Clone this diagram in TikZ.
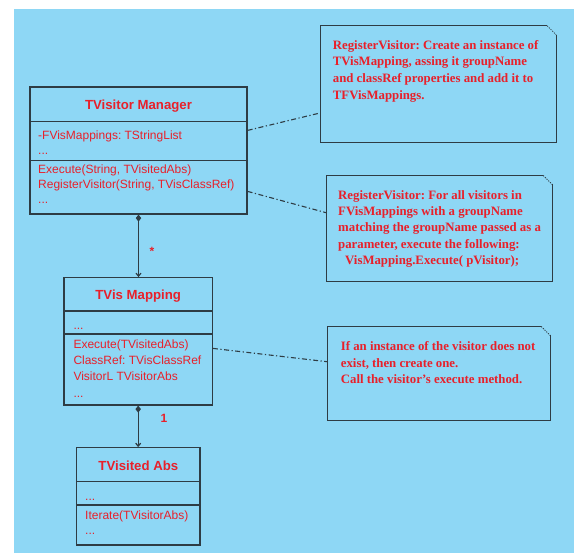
\documentclass[tikz,border=0pt]{standalone}
\usepackage{fontspec}
\setmainfont{Liberation Serif}
\setsansfont{Liberation Sans}
\usetikzlibrary{arrows.meta}
\definecolor{bgblue}{HTML}{8ED7F5}
\definecolor{umlred}{HTML}{E8202A}
\definecolor{edge}{HTML}{2E3C44}
\frenchspacing

\begin{document}
\begin{tikzpicture}[x=1pt,y=-1pt,
  classbox/.style={draw=edge, line width=1.2pt, rectangle, inner sep=0pt},
  ctitle/.style={font=\sffamily\bfseries\fontsize{13.2}{15}\selectfont, text=umlred, inner sep=0pt, anchor=base},
  cline/.style={font=\sffamily\fontsize{12}{14}\selectfont, text=umlred, inner sep=0pt, anchor=base west},
  notetext/.style={text=umlred, inner sep=0pt, anchor=base west, align=left},
  notebox/.style={rectangle, inner sep=0pt},
  notedge/.style={draw=edge, line width=1.2pt},
  notefold/.style={draw=edge, line width=0.8pt, dash pattern=on 1.2pt off 1.2pt},
  divider/.style={draw=edge, line width=1.2pt},
  assoc/.style={draw=edge, line width=1.2pt, {Diamond[length=7pt,width=5.5pt]}-{Straight Barb[length=3pt,width=5pt]}},
  anchorline/.style={draw=edge, line width=1.1pt, dash pattern=on 5pt off 2.5pt on 1.2pt off 2.5pt},
  mult/.style={font=\sffamily\bfseries\fontsize{12}{14}\selectfont, text=umlred, inner sep=0pt}
]
\useasboundingbox (0,0) rectangle (574,553);
\fill[bgblue] (14,9.5) rectangle (574,553);

% ---- class TVisitor Manager ----
\node[classbox, minimum width=217pt, minimum height=127pt] (mgr) at (138.5,150.5) {};
\draw[divider] (30,121.3) -- (247,121.3);
\draw[divider] (30,160.3) -- (247,160.3);
\node[ctitle] (mgrT) at (138.5,109.3) {TVisitor Manager};
\node[cline] (mgrA1) at (38,140) {-FVisMappings: TStringList};
\node[cline] (mgrA2) at (38,154.5) {...};
\node[cline] (mgrM1) at (38,174) {Execute(String, TVisitedAbs)};
\node[cline] (mgrM2) at (38,188.3) {RegisterVisitor(String, TVisClassRef)};
\node[cline] (mgrM3) at (38,204) {...};

% ---- class TVis Mapping ----
\node[classbox, minimum width=148.3pt, minimum height=127.3pt] (map) at (138.2,341.35) {};
\draw[divider] (64,311) -- (212.3,311);
\draw[divider] (64,334) -- (212.3,334);
\node[ctitle] (mapT) at (138.2,299.3) {TVis Mapping};
\node[cline] (mapA1) at (73.3,329.8) {...};
\node[cline] (mapM1) at (73.3,348.7) {Execute(TVisitedAbs)};
\node[cline] (mapM2) at (73.3,364.5) {ClassRef: TVisClassRef};
\node[cline] (mapM3) at (73.3,381) {VisitorL TVisitorAbs};
\node[cline] (mapM4) at (73.3,397.5) {...};

% ---- class TVisited Abs ----
\node[classbox, minimum width=123.3pt, minimum height=97.3pt] (vis) at (138.35,496.35) {};
\draw[divider] (76.7,481.7) -- (200,481.7);
\draw[divider] (76.7,505) -- (200,505);
\node[ctitle] (visT) at (138.35,470.7) {TVisited Abs};
\node[cline] (visA1) at (85,500.8) {...};
\node[cline] (visM1) at (85,519.3) {Iterate(TVisitorAbs)};
\node[cline] (visM2) at (85,534.5) {...};

% ---- compositions ----
\draw[assoc] (mgr.south) -- (mgr.south |- map.north);
\draw[assoc] (map.south) -- (map.south |- vis.north);
\node[mult] (m1) at (152,251) {*};
\node[mult] (m2) at (164,418) {1};

% ---- notes ----
\node[notebox, minimum width=235pt, minimum height=116.7pt] (note1) at (438.5,84.35) {};
\node[notebox, minimum width=225.3pt, minimum height=106pt] (note2) at (439.35,228.7) {};
\node[notebox, minimum width=222pt, minimum height=93.3pt] (note3) at (439,373.35) {};
\foreach \n in {note1,note2,note3}{
  \draw[notedge] ([xshift=-9pt]\n.north east) -- (\n.north west) -- (\n.south west)
     -- (\n.south east) -- ([yshift=-9pt]\n.north east);
  \draw[notefold] ([xshift=-9pt]\n.north east) -- ([yshift=-9pt]\n.north east);
}
% anchor base west of a multi-line node sits on its last line
\node[notetext, font=\rmfamily\bfseries\fontsize{12.8}{16.65}\selectfont] (t1) at (332.7,99.3) {RegisterVisitor: Create an instance of\\TVisMapping, assing it groupName\\and classRef properties and add it to\\TFVisMappings.};
\node[notetext, font=\rmfamily\bfseries\fontsize{12.8}{16.25}\selectfont] (t2) at (338,264.3) {RegisterVisitor: For all visitors in\\FVisMappings with a groupName\\matching the groupName passed as a\\parameter, execute the following:\\\hspace*{7pt}VisMapping.Execute( pVisitor);};
\node[notetext, font=\rmfamily\bfseries\fontsize{12.8}{16.65}\selectfont] (t3) at (340.7,384) {If an instance of the visitor does not\\exist, then create one.\\Call the visitor's execute method.};

% ---- note anchors ----
\draw[anchorline] ([yshift=-44pt]mgr.north east) -- ([yshift=-87pt]note1.north west);
\draw[anchorline] ([yshift=-105pt]mgr.north east) -- ([yshift=-37.3pt]note2.north west);
\draw[anchorline] ([yshift=-71.3pt]map.north east) -- ([yshift=-35.3pt]note3.north west);
\end{tikzpicture}
\end{document}
